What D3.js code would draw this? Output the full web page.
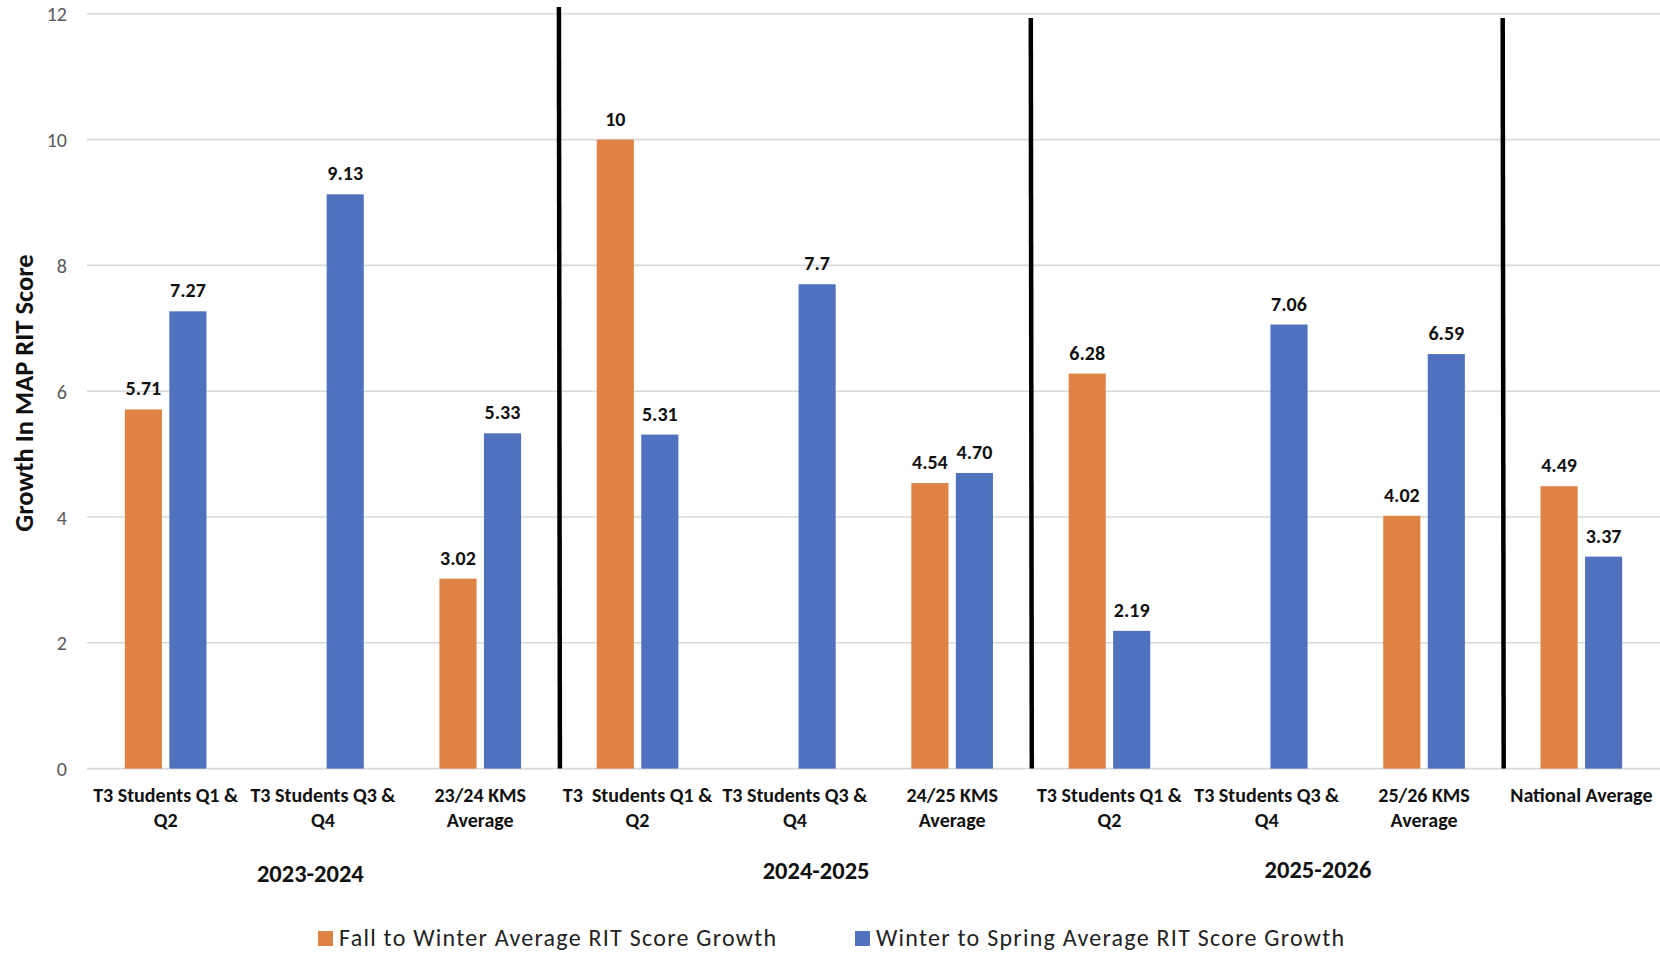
<!DOCTYPE html>
<html>
<head>
<meta charset="utf-8">
<script src="https://cdn.jsdelivr.net/npm/d3@7"></script>
<style>
  html, body { margin: 0; padding: 0; background: #ffffff; }
  svg { display: block; }
  text { font-family: Carlito, Calibri, Lato, "Open Sans", sans-serif; }
</style>
</head>
<body>
<div id="chart"></div>
<script>
// ---------------- DATA ----------------
const categories = [
  "T3 Students Q1 & Q2", "T3 Students Q3 & Q4", "23/24 KMS Average",
  "T3  Students Q1 & Q2", "T3 Students Q3 & Q4 ", "24/25 KMS Average",
  "T3 Students Q1 & Q2 ", "T3 Students Q3 & Q4  ", "25/26 KMS Average",
  "National Average"
];
const categoryLines = [
  ["T3 Students Q1 &", "Q2"], ["T3 Students Q3 &", "Q4"], ["23/24 KMS", "Average"],
  ["T3  Students Q1 &", "Q2"], ["T3 Students Q3 &", "Q4"], ["24/25 KMS", "Average"],
  ["T3 Students Q1 &", "Q2"], ["T3 Students Q3 &", "Q4"], ["25/26 KMS", "Average"],
  ["National Average"]
];
const seriesNames = ["Fall to Winter Average RIT Score Growth", "Winter to Spring Average RIT Score Growth"];
const fallToWinter   = [5.71, null, 3.02, 10, null, 4.54, 6.28, null, 4.02, 4.49];
const winterToSpring = [7.27, 9.13, 5.33, 5.31, 7.7, 4.70, 2.19, 7.06, 6.59, 3.37];
const fallLabels   = ["5.71", null, "3.02", "10", null, "4.54", "6.28", null, "4.02", "4.49"];
const springLabels = ["7.27", "9.13", "5.33", "5.31", "7.7", "4.70", "2.19", "7.06", "6.59", "3.37"];
const yTicks = [0, 2, 4, 6, 8, 10, 12];
const groupNames = ["2023-2024", "2024-2025", "2025-2026"];
const separatorsAfter = [2, 5, 8]; // category index after which a divider is drawn
const yTitle = "Growth In MAP RIT Score";

// ---------------- LAYOUT ----------------
const W = 1660, H = 953;
const plotLeft = 87, plotRight = 1660, yTop = 13.8, yBottom = 768.6;
const colors = ["#DF8344", "#4F71BE"];
const groupLabelPos = [1.42, 4.635, 7.826];   // in category-step units from plot left
const groupLabelY = [882, 879, 878];
const sepTopY = [7, 18, 18];

const svg = d3.select("#chart").append("svg")
  .attr("width", W).attr("height", H)
  .attr("viewBox", `0 0 ${W} ${H}`);

const x = d3.scaleBand().domain(categories).range([plotLeft, plotRight]).padding(0);
const xs = d3.scaleBand().domain([0, 1]).range([0, x.bandwidth()])
  .paddingInner(0.166).paddingOuter(0.85);
const y = d3.scaleLinear().domain([0, 12]).range([yBottom, yTop]);

// gridlines
svg.append("g").selectAll("line").data(yTicks).join("line")
  .attr("x1", plotLeft).attr("x2", plotRight)
  .attr("y1", d => y(d)).attr("y2", d => y(d))
  .attr("stroke", "#D9D9D9").attr("stroke-width", 1.6);

// y axis tick labels
const yAxis = d3.axisLeft(y).tickValues(yTicks).tickSize(0).tickPadding(0);
const yg = svg.append("g").attr("transform", `translate(67,0)`).call(yAxis);
yg.select(".domain").remove();
yg.selectAll("text").attr("fill", "#595959").style("font-size", "20px")
  .style("font-family", "Carlito, Calibri, Lato, sans-serif").attr("dy", "0.35em");

// bars
const series = [fallToWinter, winterToSpring];
const labels = [fallLabels, springLabels];
series.forEach((vals, si) => {
  const items = vals.map((v, i) => ({ v, i, lab: labels[si][i] })).filter(d => d.v !== null);
  svg.append("g").selectAll("rect").data(items).join("rect")
    .attr("x", d => x(categories[d.i]) + xs(si))
    .attr("width", xs.bandwidth())
    .attr("y", d => y(d.v))
    .attr("height", d => y(0) - y(d.v))
    .attr("fill", colors[si]);
  svg.append("g").selectAll("text").data(items).join("text")
    .attr("x", d => x(categories[d.i]) + xs(si) + xs.bandwidth() / 2)
    .attr("y", d => y(d.v) - 14)
    .attr("text-anchor", "middle")
    .style("font-size", "20px").style("font-weight", "700")
    .attr("fill", "#111")
    .text(d => d.lab);
});

// separators
svg.append("g").selectAll("line").data(separatorsAfter).join("line")
  .attr("x1", d => x(categories[d + 1])).attr("x2", d => x(categories[d + 1]) + 1)
  .attr("y1", (d, i) => sepTopY[i]).attr("y2", y(0))
  .attr("stroke", "#000").attr("stroke-width", 4.5);

// category labels
const cg = svg.append("g");
categories.forEach((c, i) => {
  const t = cg.append("text")
    .attr("x", x(c) + x.bandwidth() / 2)
    .attr("y", 802)
    .attr("text-anchor", "middle")
    .style("font-size", "20px").style("font-weight", "700")
    .style("white-space", "pre")
    .attr("fill", "#111");
  categoryLines[i].forEach((ln, k) => {
    t.append("tspan").attr("x", x(c) + x.bandwidth() / 2).attr("dy", k === 0 ? 0 : 24.5).text(ln);
  });
});

// group labels
svg.append("g").selectAll("text").data(groupNames).join("text")
  .attr("x", (d, i) => plotLeft + groupLabelPos[i] * x.step())
  .attr("y", (d, i) => groupLabelY[i])
  .attr("text-anchor", "middle")
  .style("font-size", "24.5px").style("font-weight", "700")
  .attr("fill", "#111")
  .text(d => d);

// y title
svg.append("text")
  .attr("transform", "translate(33,393) rotate(-90)")
  .attr("text-anchor", "middle")
  .style("font-size", "26.5px").style("font-weight", "700")
  .attr("fill", "#111")
  .text(yTitle);

// legend
const legX = [318, 855];
const lg = svg.append("g");
seriesNames.forEach((s, i) => {
  lg.append("rect").attr("x", legX[i]).attr("y", 931).attr("width", 15).attr("height", 15).attr("fill", colors[i]);
  lg.append("text").attr("x", legX[i] + 21).attr("y", 946)
    .style("font-size", "24px").style("letter-spacing", "1.25px")
    .attr("fill", "#222").text(s);
});
</script>
</body>
</html>
